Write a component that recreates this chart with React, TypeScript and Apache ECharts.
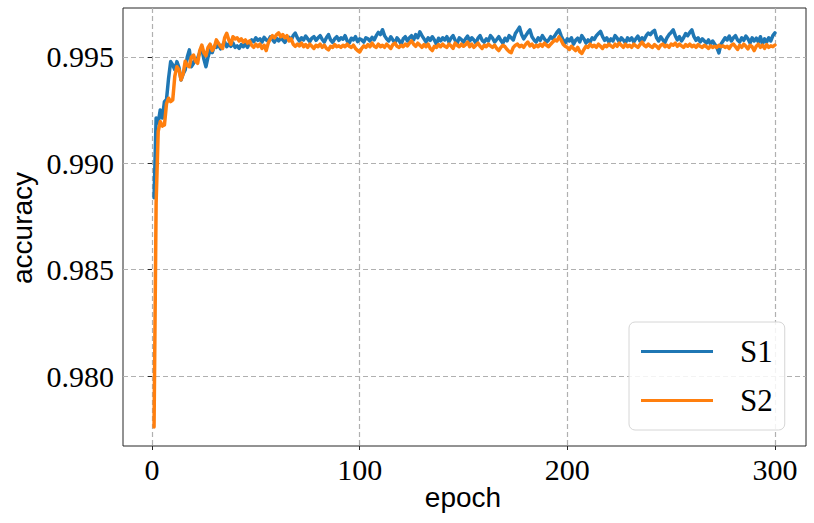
import React, { useEffect, useRef } from "react";
import * as echarts from "echarts";

const xTicks = [0, 100, 200, 300];
const yTicks = [0.98, 0.985, 0.99, 0.995];
const seriesNames = ["S1", "S2"];

const s1 = [
  0.98838, 0.99213, 0.99190, 0.99251, 0.99213, 0.99290, 0.99300, 0.99400, 0.99478, 0.99462,
  0.99440, 0.99478, 0.99450, 0.99392, 0.99420, 0.99439, 0.99500, 0.99533, 0.99454, 0.99470,
  0.99490, 0.99494, 0.99520, 0.99541, 0.99490, 0.99454, 0.99500, 0.99533, 0.99520, 0.99550,
  0.99545, 0.99560, 0.99538, 0.99555, 0.99570, 0.99548, 0.99562, 0.99550, 0.99566, 0.99545,
  0.99552, 0.99540, 0.99558, 0.99548, 0.99560, 0.99545, 0.99565, 0.99580, 0.99572, 0.99590,
  0.99578, 0.99585, 0.99570, 0.99592, 0.99580, 0.99575, 0.99595, 0.99582, 0.99570, 0.99588,
  0.99575, 0.99590, 0.99580, 0.99568, 0.99585, 0.99592, 0.99578, 0.99600, 0.99612, 0.99590,
  0.99575, 0.99590, 0.99580, 0.99598, 0.99585, 0.99572, 0.99588, 0.99595, 0.99578, 0.99590,
  0.99600, 0.99582, 0.99570, 0.99590, 0.99605, 0.99580, 0.99568, 0.99585, 0.99595, 0.99578,
  0.99590, 0.99583, 0.99600, 0.99575, 0.99565, 0.99588, 0.99580, 0.99595, 0.99572, 0.99585,
  0.99580, 0.99570, 0.99590, 0.99585, 0.99575, 0.99592, 0.99580, 0.99600, 0.99615, 0.99605,
  0.99628, 0.99600, 0.99585, 0.99575, 0.99595, 0.99580, 0.99565, 0.99590, 0.99578, 0.99560,
  0.99585, 0.99595, 0.99575, 0.99590, 0.99600, 0.99580, 0.99605, 0.99590, 0.99618, 0.99600,
  0.99585, 0.99570, 0.99590, 0.99578, 0.99595, 0.99580, 0.99560, 0.99588, 0.99575, 0.99590,
  0.99580, 0.99595, 0.99570, 0.99588, 0.99600, 0.99578, 0.99565, 0.99590, 0.99582, 0.99570,
  0.99585, 0.99598, 0.99575, 0.99590, 0.99580, 0.99565, 0.99588, 0.99600, 0.99578, 0.99570,
  0.99585, 0.99575, 0.99600, 0.99588, 0.99570, 0.99582, 0.99595, 0.99578, 0.99565, 0.99588,
  0.99575, 0.99600, 0.99590, 0.99580, 0.99610, 0.99625, 0.99640, 0.99605, 0.99585, 0.99600,
  0.99615, 0.99627, 0.99595, 0.99580, 0.99570, 0.99590, 0.99578, 0.99600, 0.99585, 0.99570,
  0.99580, 0.99595, 0.99585, 0.99600, 0.99615, 0.99627, 0.99600, 0.99580, 0.99565, 0.99585,
  0.99575, 0.99590, 0.99560, 0.99578, 0.99588, 0.99570, 0.99600, 0.99585, 0.99565, 0.99580,
  0.99570, 0.99590, 0.99582, 0.99600, 0.99610, 0.99620, 0.99595, 0.99578, 0.99590, 0.99570,
  0.99585, 0.99575, 0.99600, 0.99588, 0.99570, 0.99590, 0.99580, 0.99565, 0.99590, 0.99578,
  0.99590, 0.99570, 0.99585, 0.99598, 0.99575, 0.99590, 0.99580, 0.99600, 0.99612, 0.99605,
  0.99618, 0.99625, 0.99590, 0.99575, 0.99595, 0.99580, 0.99568, 0.99590, 0.99605, 0.99615,
  0.99627, 0.99600, 0.99580, 0.99595, 0.99575, 0.99590, 0.99610, 0.99600, 0.99615, 0.99627,
  0.99595, 0.99578, 0.99590, 0.99570, 0.99585, 0.99575, 0.99565, 0.99580, 0.99560, 0.99575,
  0.99560, 0.99545, 0.99519, 0.99560, 0.99575, 0.99590, 0.99580, 0.99598, 0.99575, 0.99590,
  0.99600, 0.99580, 0.99570, 0.99590, 0.99578, 0.99598, 0.99585, 0.99565, 0.99590, 0.99575,
  0.99588, 0.99570, 0.99595, 0.99560, 0.99585, 0.99570, 0.99590, 0.99575, 0.99600, 0.99613,
];

const s2 = [
  0.97760, 0.98813, 0.99150, 0.99196, 0.99175, 0.99180, 0.99280, 0.99306, 0.99290, 0.99298,
  0.99410, 0.99454, 0.99440, 0.99392, 0.99420, 0.99480, 0.99460, 0.99454, 0.99500, 0.99509,
  0.99480, 0.99470, 0.99530, 0.99556, 0.99520, 0.99505, 0.99545, 0.99560, 0.99530, 0.99545,
  0.99580, 0.99565, 0.99550, 0.99540, 0.99590, 0.99611, 0.99580, 0.99560, 0.99595, 0.99585,
  0.99590, 0.99575, 0.99585, 0.99570, 0.99580, 0.99565, 0.99575, 0.99555, 0.99545, 0.99560,
  0.99548, 0.99560, 0.99540, 0.99555, 0.99530, 0.99565, 0.99585, 0.99600, 0.99590, 0.99605,
  0.99613, 0.99595, 0.99605, 0.99590, 0.99600, 0.99575, 0.99585, 0.99560, 0.99550, 0.99560,
  0.99552, 0.99565, 0.99548, 0.99558, 0.99545, 0.99560, 0.99550, 0.99540, 0.99555, 0.99548,
  0.99560, 0.99545, 0.99555, 0.99540, 0.99533, 0.99550, 0.99545, 0.99558, 0.99548, 0.99552,
  0.99545, 0.99555, 0.99548, 0.99560, 0.99550, 0.99545, 0.99555, 0.99540, 0.99530, 0.99523,
  0.99540, 0.99552, 0.99545, 0.99558, 0.99548, 0.99565, 0.99550, 0.99545, 0.99560, 0.99548,
  0.99555, 0.99545, 0.99560, 0.99550, 0.99540, 0.99558, 0.99565, 0.99550, 0.99545, 0.99555,
  0.99548, 0.99560, 0.99552, 0.99565, 0.99575, 0.99560, 0.99550, 0.99565, 0.99555, 0.99545,
  0.99558, 0.99548, 0.99560, 0.99540, 0.99530, 0.99550, 0.99545, 0.99558, 0.99548, 0.99560,
  0.99550, 0.99545, 0.99560, 0.99552, 0.99540, 0.99565, 0.99555, 0.99548, 0.99560, 0.99550,
  0.99558, 0.99570, 0.99548, 0.99560, 0.99545, 0.99555, 0.99565, 0.99550, 0.99540, 0.99555,
  0.99548, 0.99560, 0.99552, 0.99545, 0.99555, 0.99540, 0.99530, 0.99545, 0.99555, 0.99548,
  0.99535, 0.99525, 0.99520, 0.99545, 0.99555, 0.99560, 0.99548, 0.99555, 0.99545, 0.99560,
  0.99570, 0.99552, 0.99560, 0.99545, 0.99555, 0.99548, 0.99560, 0.99550, 0.99565, 0.99555,
  0.99548, 0.99560, 0.99570, 0.99580, 0.99575, 0.99594, 0.99580, 0.99560, 0.99550, 0.99545,
  0.99535, 0.99550, 0.99540, 0.99530, 0.99545, 0.99525, 0.99517, 0.99535, 0.99550, 0.99545,
  0.99560, 0.99548, 0.99555, 0.99545, 0.99560, 0.99550, 0.99540, 0.99555, 0.99548, 0.99560,
  0.99552, 0.99545, 0.99560, 0.99550, 0.99565, 0.99555, 0.99545, 0.99560, 0.99548, 0.99555,
  0.99545, 0.99560, 0.99552, 0.99545, 0.99558, 0.99570, 0.99555, 0.99548, 0.99560, 0.99550,
  0.99545, 0.99558, 0.99550, 0.99540, 0.99555, 0.99560, 0.99548, 0.99555, 0.99545, 0.99560,
  0.99555, 0.99565, 0.99550, 0.99560, 0.99552, 0.99545, 0.99558, 0.99550, 0.99560, 0.99548,
  0.99555, 0.99545, 0.99558, 0.99550, 0.99545, 0.99555, 0.99548, 0.99540, 0.99552, 0.99545,
  0.99550, 0.99545, 0.99555, 0.99548, 0.99552, 0.99545, 0.99550, 0.99540, 0.99555, 0.99560,
  0.99548, 0.99535, 0.99555, 0.99545, 0.99560, 0.99550, 0.99538, 0.99555, 0.99548, 0.99530,
  0.99550, 0.99560, 0.99545, 0.99555, 0.99540, 0.99558, 0.99545, 0.99552, 0.99548, 0.99556,
];

const colors = ["#1f77b4", "#ff7f0e"];

export default function App() {
  const ref = useRef<HTMLDivElement>(null);
  useEffect(() => {
    if (!ref.current) return;
    const chart = echarts.init(ref.current, null, { renderer: "svg" });
    const serif = "'Liberation Serif', 'DejaVu Serif', serif";
    const sans = "'Liberation Sans', 'DejaVu Sans', sans-serif";
    const gridLine = { show: true, lineStyle: { color: "#b0b0b0", width: 1.2, type: [5, 3] as any } };
    chart.setOption({
      animation: false,
      backgroundColor: "#ffffff",
      grid: {
        left: 123,
        right: 8,
        top: 8,
        bottom: 77,
        show: true,
        borderColor: "#262626",
        borderWidth: 1,
        backgroundColor: "transparent",
      },
      xAxis: {
        type: "value",
        min: -13.95,
        max: 314.95,
        axisLine: { show: false },
        axisTick: { show: true, length: 4, lineStyle: { color: "#262626" }, customValues: xTicks },
        axisLabel: {
          customValues: xTicks,
          margin: 8,
          fontFamily: serif,
          fontSize: 30,
          color: "#000",
        },
        splitLine: gridLine,
      },
      yAxis: {
        type: "value",
        min: 0.97671,
        max: 0.9973,
        axisLine: { show: false },
        axisTick: { show: true, length: 4, lineStyle: { color: "#262626" }, customValues: yTicks },
        axisLabel: {
          customValues: yTicks,
          margin: 9,
          fontFamily: serif,
          fontSize: 30,
          color: "#000",
          formatter: (v: number) => v.toFixed(3),
        },
        splitLine: gridLine,
      },
      legend: {
        orient: "vertical",
        left: 629,
        top: 322,
        data: seriesNames.map((n) => ({ name: n, icon: "rect" })),
        itemWidth: 72,
        itemHeight: 3,
        itemGap: 18,
        padding: [14, 12, 14, 12],
        backgroundColor: "rgba(255,255,255,0.85)",
        borderColor: "#d6d6d6",
        borderWidth: 1,
        borderRadius: 6,
        textStyle: { fontFamily: serif, fontSize: 31, color: "#000", padding: [0, 0, 0, 22] },
      },
      graphic: [
        {
          type: "text",
          x: 463,
          y: 497,
          style: { text: "epoch", font: `28px ${sans}`, fill: "#000", textAlign: "center", textVerticalAlign: "middle" },
        },
        {
          type: "text",
          x: 22,
          y: 228,
          rotation: Math.PI / 2,
          style: { text: "accuracy", font: `28px ${sans}`, fill: "#000", textAlign: "center", textVerticalAlign: "middle" },
        },
      ],
      series: [s1, s2].map((arr, k) => ({
        name: seriesNames[k],
        type: "line",
        data: arr.map((v, i) => [i + 1, v]),
        showSymbol: false,
        symbol: "none",
        color: colors[k],
        lineStyle: { width: 3.5, color: colors[k], join: "round", cap: "round" },
        z: 2 + k,
      })),
    });
    return () => chart.dispose();
  }, []);
  return <div ref={ref} style={{ position: "fixed", left: 0, top: 0, width: 814, height: 523 }} />;
}
